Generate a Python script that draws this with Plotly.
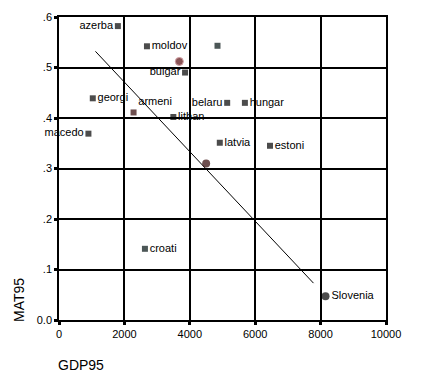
import plotly.graph_objects as go

# Data
names = ["azerba", "moldov", "", "bulgar", "", "georgi", "armeni", "lithan",
         "macedo", "belaru", "hungar", "latvia", "estoni", "", "croati", "Slovenia"]
gdp95 = [1800, 2690, 3680, 3855, 4847, 1033, 2280, 3497,
         900, 5143, 5685, 4917, 6452, 4500, 2628, 8150]
mat95 = [0.582, 0.542, 0.512, 0.490, 0.543, 0.439, 0.411, 0.402,
         0.369, 0.430, 0.430, 0.351, 0.345, 0.310, 0.141, 0.047]
symbols = ["square", "square", "circle", "square", "square", "square", "square", "square",
           "square", "square", "square", "square", "square", "circle", "square", "circle"]
positions = ["middle left", "middle right", "middle right", "middle left", "middle right",
             "middle right", "top right", "middle right", "middle left", "middle left",
             "middle right", "middle right", "middle right", "middle right",
             "middle right", "middle right"]
colors = ["#000000", "#000000", "#5a0c10", "#000000", "#001010", "#000000", "#300404",
          "#000000", "#000000", "#000000", "#000000", "#000000", "#000000", "#300404",
          "#001010", "#000000"]
line_colors = ["rgba(0,0,0,0)"] * 16
line_colors[2] = "#c07a80"
line_widths = [0] * 16
line_widths[2] = 1

fit_x = [1114, 7782]
fit_y = [0.532, 0.073]

x_ticks = [0, 2000, 4000, 6000, 8000, 10000]
x_tick_text = ["0", "2000", "4000", "6000", "8000", "10000"]
y_ticks = [0.0, 0.1, 0.2, 0.3, 0.4, 0.5, 0.6]
y_tick_text = ["0.0", ".1", ".2", ".3", ".4", ".5", ".6"]

FONT = "Liberation Sans, Arial, sans-serif"
# page body has an 8px margin; compensate so plot lands where the reference is
L, R, T, B = 51, 42, 9, 69
W, H = 420, 381
pw, ph = W - L - R, H - T - B


def px_to_paper(px, py):
    # screen pixel -> paper coordinates
    fx, fy = px - 8, py - 8
    return (fx - L) / pw, (H - B - fy) / ph


gx, gy = px_to_paper(81, 365)
mx, my = px_to_paper(19, 300)

fig = go.Figure()
fig.add_trace(go.Scatter(
    x=fit_x, y=fit_y, mode="lines",
    line=dict(color="black", width=1), hoverinfo="skip", showlegend=False))
fig.add_trace(go.Scatter(
    x=gdp95, y=mat95, mode="markers+text", text=names, textposition=positions,
    cliponaxis=False,
    textfont=dict(family=FONT, size=11, color="black"),
    marker=dict(symbol=symbols, size=[6 if s == "square" else 8 for s in symbols],
                color=colors, line=dict(color=line_colors, width=line_widths)),
    showlegend=False))

axis_common = dict(
    showgrid=True, gridcolor="black", gridwidth=1.5,
    showline=True, linecolor="black", linewidth=1.5, mirror=True,
    ticks="outside", ticklen=3, tickwidth=3, tickcolor="black",
    zeroline=False, automargin=False,
    tickfont=dict(family=FONT, size=11, color="black"),
)

fig.update_layout(
    width=W, height=H,
    margin=dict(l=L, r=R, t=T, b=B),
    paper_bgcolor="white", plot_bgcolor="white",
    xaxis=dict(range=[0, 10000], tickvals=x_ticks, ticktext=x_tick_text, **axis_common),
    yaxis=dict(range=[0, 0.6], tickvals=y_ticks, ticktext=y_tick_text, **axis_common),
    annotations=[
        dict(text="GDP95", x=gx, y=gy, xref="paper", yref="paper", showarrow=False,
             xanchor="center", yanchor="middle",
             font=dict(family=FONT, size=14, color="black")),
        dict(text="MAT95", x=mx, y=my, xref="paper", yref="paper", showarrow=False,
             textangle=-90, xanchor="center", yanchor="middle",
             font=dict(family=FONT, size=14, color="black")),
    ],
)

fig.write_html("out.html")
